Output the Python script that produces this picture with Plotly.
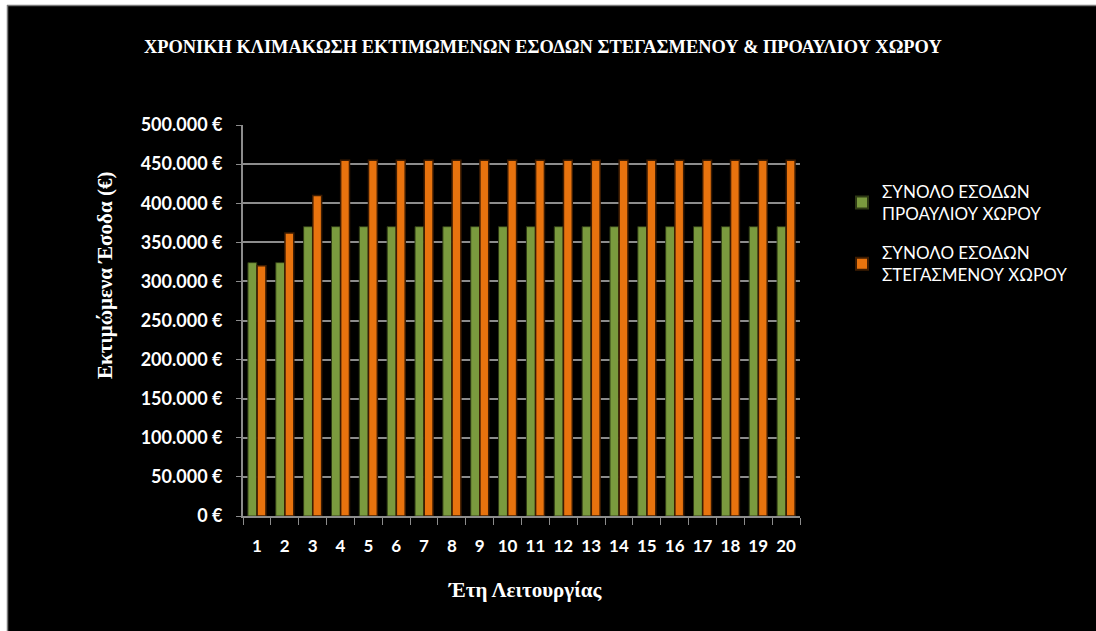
import plotly.graph_objects as go

# Operating years (category axis)
years = ["1", "2", "3", "4", "5", "6", "7", "8", "9", "10",
         "11", "12", "13", "14", "15", "16", "17", "18", "19", "20"]

# Estimated income of the open forecourt area (€)
forecourt_income = [324000, 324000, 370000, 370000, 370000, 370000, 370000,
                    370000, 370000, 370000, 370000, 370000, 370000, 370000,
                    370000, 370000, 370000, 370000, 370000, 370000]

# Estimated income of the covered area (€)
covered_income = [320000, 362000, 410000, 455000, 455000, 455000, 455000,
                  455000, 455000, 455000, 455000, 455000, 455000, 455000,
                  455000, 455000, 455000, 455000, 455000, 455000]

series_names = ["ΣΥΝΟΛΟ ΕΣΟΔΩΝ<br>ΠΡΟΑΥΛΙΟΥ ΧΩΡΟΥ",
                "ΣΥΝΟΛΟ ΕΣΟΔΩΝ<br>ΣΤΕΓΑΣΜΕΝΟΥ ΧΩΡΟΥ"]

title_text = "ΧΡΟΝΙΚΗ ΚΛΙΜΑΚΩΣΗ ΕΚΤΙΜΩΜΕΝΩΝ ΕΣΟΔΩΝ ΣΤΕΓΑΣΜΕΝΟΥ & ΠΡΟΑΥΛΙΟΥ ΧΩΡΟΥ"
y_title = "Εκτιμώμενα Έσοδα (€)"
x_title = "Έτη Λειτουργίας"

# Page geometry
W, H = 1096, 631
L, R, T, B = 243, 296, 125, 115
PW, PH = W - L - R, H - T - B


def px(x):
    return (x - L) / PW


def py(y):
    return (H - B - y) / PH


GREEN = "#7a9a3e"
ORANGE = "#e8730e"
EDGE = "#3d1c02"
GRID = "#8c8c8c"
SANS = "Lato"
SERIF = "Liberation Serif"

fig = go.Figure()
fig.add_trace(go.Bar(x=years, y=forecourt_income, name=series_names[0],
                     legendgroup="forecourt",
                     marker=dict(color=GREEN, line=dict(color="#2e3a14", width=1))))
fig.add_trace(go.Bar(x=years, y=covered_income, name=series_names[1],
                     legendgroup="covered",
                     marker=dict(color=ORANGE, line=dict(color=EDGE, width=1.5))))

fig.update_layout(
    width=W, height=H,
    margin=dict(l=L, r=R, t=T, b=B),
    paper_bgcolor="black",
    plot_bgcolor="black",
    separators=",.",
    barmode="group",
    bargap=0.34,
    bargroupgap=0.04,
    showlegend=True,
    legend=dict(
        x=px(842), y=py(174), xanchor="left", yanchor="top",
        font=dict(family=SANS, size=17, color="white"),
        bgcolor="rgba(0,0,0,0)", tracegroupgap=14, traceorder="grouped",
        itemsizing="constant",
    ),
    xaxis=dict(
        type="category",
        tickson="boundaries",
        ticks="outside", ticklen=7, tickcolor=GRID, tickwidth=1,
        showline=True, linecolor=GRID, linewidth=2,
        showgrid=False,
        tickangle=0,
        tickfont=dict(family=SANS, size=17, color="white", weight="bold"),
        ticklabelstandoff=14,
    ),
    yaxis=dict(
        range=[0, 500000], dtick=50000,
        tickformat=",d", ticksuffix=" €",
        ticks="outside", ticklen=5, tickcolor=GRID, tickwidth=1,
        showline=True, linecolor=GRID, linewidth=2,
        showgrid=True, gridcolor=GRID, gridwidth=2,
        zeroline=False,
        tickfont=dict(family=SANS, size=18, color="white", weight="bold"),
        ticklabelstandoff=10,
    ),
    annotations=[
        dict(text="<b>" + title_text + "</b>", x=px(543), y=py(47),
             xref="paper", yref="paper", showarrow=False,
             xanchor="center", yanchor="middle",
             font=dict(family=SERIF, size=18.4, color="white")),
        dict(text="<b>" + y_title + "</b>", x=px(105), y=py(276),
             xref="paper", yref="paper", showarrow=False, textangle=-90,
             xanchor="center", yanchor="middle",
             font=dict(family=SERIF, size=21, color="white")),
        dict(text="<b>" + x_title + "</b>", x=px(525), y=py(590),
             xref="paper", yref="paper", showarrow=False,
             xanchor="center", yanchor="middle",
             font=dict(family=SERIF, size=21, color="white")),
    ],
    shapes=[
        # white page margin above and left of the dark chart panel
        dict(type="rect", xref="paper", yref="paper",
             x0=px(0), x1=px(W), y0=py(5), y1=py(0),
             fillcolor="white", line=dict(width=0), layer="above"),
        dict(type="rect", xref="paper", yref="paper",
             x0=px(0), x1=px(7), y0=py(H), y1=py(0),
             fillcolor="white", line=dict(width=0), layer="above"),
        # thin grey border of the panel
        dict(type="line", xref="paper", yref="paper",
             x0=px(7), x1=px(W), y0=py(5.5), y1=py(5.5),
             line=dict(color="#7a7a7a", width=1.5), layer="above"),
        dict(type="line", xref="paper", yref="paper",
             x0=px(7.5), x1=px(7.5), y0=py(5), y1=py(H),
             line=dict(color="#7a7a7a", width=1.5), layer="above"),
    ],
)

fig.write_html("out.html")
